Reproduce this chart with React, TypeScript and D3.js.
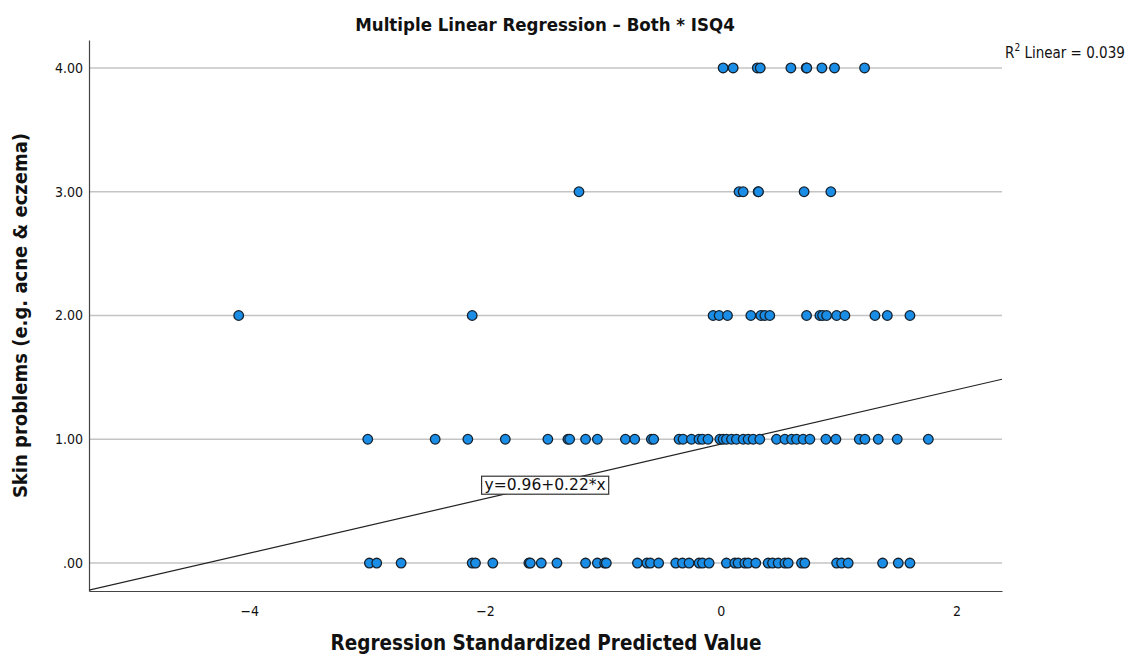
import React, { useEffect, useRef } from 'react';
import * as d3 from 'd3';

// predicted value (x) for each observed level of skin problems
const row4: number[] = [0.02, 0.105, 0.31, 0.335, 0.595, 0.725, 0.73, 0.858, 0.965, 1.22];
const row3: number[] = [-1.203, 0.155, 0.19, 0.317, 0.32, 0.707, 0.934];
const row2: number[] = [-4.09, -2.109, -0.065, -0.014, 0.057, 0.255, 0.34, 0.374, 0.416, 0.728, 0.841, 0.864,
  0.898, 0.983, 1.053, 1.308, 1.413, 1.605];
const row1: number[] = [-2.995, -2.423, -2.146, -1.828, -1.467, -1.297, -1.282, -1.147, -1.047, -0.809, -0.73,
  -0.589, -0.569, -0.354, -0.32, -0.249, -0.185, -0.156, -0.108, -0.008, 0.02, 0.048, 0.091, 0.133, 0.19,
  0.232, 0.275, 0.331, 0.473, 0.544, 0.601, 0.643, 0.699, 0.756, 0.892, 0.977, 1.175, 1.223, 1.336, 1.497, 1.761];
const row0: number[] = [-2.981, -2.919, -2.712, -2.109, -2.081, -1.934, -1.628, -1.616, -1.523, -1.39, -1.147,
  -1.047, -0.985, -0.971, -0.707, -0.626, -0.597, -0.527, -0.382, -0.325, -0.269, -0.184, -0.155, -0.099,
  0.048, 0.119, 0.147, 0.204, 0.232, 0.297, 0.402, 0.439, 0.487, 0.544, 0.572, 0.685, 0.713, 0.983, 1.025,
  1.081, 1.373, 1.506, 1.605];

const levels = [0, 1, 2, 3, 4];
const xTicks = [-4, -2, 0, 2];
const intercept = 0.96;
const slope = 0.22;
const rSquared = '0.039';

const App = () => {
  const ref = useRef<SVGSVGElement>(null);

  useEffect(() => {
    const W = 1137;
    const H = 657;
    const margin = { top: 40, right: 135, bottom: 66, left: 89 };
    const svg = d3.select(ref.current);
    svg.selectAll('*').remove();

    const x = d3.scaleLinear().domain([-5.36, 2.386]).range([margin.left, W - margin.right]);
    const y = d3.scaleLinear().domain([-0.226, 4.226]).range([H - margin.bottom, margin.top]);
    const font = "'Liberation Sans Narrow', 'DejaVu Sans Condensed', 'Liberation Sans', sans-serif";

    const points = [row0, row1, row2, row3, row4].flatMap((xs, i) => xs.map(v => ({ x: v, y: levels[i] })));

    // grid lines
    svg.append('g')
      .selectAll('line')
      .data(levels)
      .join('line')
      .attr('x1', margin.left)
      .attr('x2', W - margin.right)
      .attr('y1', d => y(d))
      .attr('y2', d => y(d))
      .attr('stroke', '#c4c4c4')
      .attr('stroke-width', 1.5);

    // axes
    const yAxis = svg.append('g')
      .attr('transform', `translate(${margin.left},0)`)
      .call(d3.axisLeft(y).tickValues(levels).tickSize(0).tickPadding(6)
        .tickFormat(d => (d === 0 ? '.00' : d3.format('.2f')(d as number))));
    const xAxis = svg.append('g')
      .attr('transform', `translate(0,${H - margin.bottom})`)
      .call(d3.axisBottom(x).tickValues(xTicks).tickSize(0).tickPadding(15)
        .tickFormat(d => (d as number) < 0 ? `\u2212${Math.abs(d as number)}` : `${d}`));
    [yAxis, xAxis].forEach(a => {
      a.select('.domain').attr('stroke', '#444').attr('stroke-width', 1.2);
      a.selectAll('text').attr('font-family', font).attr('font-size', 14).attr('fill', '#111');
    });

    // regression line
    const clipId = 'plot-clip';
    svg.append('clipPath').attr('id', clipId)
      .append('rect')
      .attr('x', margin.left).attr('y', margin.top)
      .attr('width', W - margin.right - margin.left)
      .attr('height', H - margin.bottom - margin.top);
    const [x0, x1] = x.domain();
    svg.append('path')
      .datum([x0, x1])
      .attr('clip-path', `url(#${clipId})`)
      .attr('d', d3.line<number>().x(d => x(d)).y(d => y(intercept + slope * d)))
      .attr('stroke', '#222')
      .attr('stroke-width', 1.2)
      .attr('fill', 'none');

    // points
    svg.append('g')
      .selectAll('circle')
      .data(points)
      .join('circle')
      .attr('cx', d => x(d.x))
      .attr('cy', d => y(d.y))
      .attr('r', 4.8)
      .attr('fill', '#1a8ee6')
      .attr('stroke', '#16222e')
      .attr('stroke-width', 1.3);

    // equation label
    const eqX = -1.49;
    const eqY = intercept + slope * eqX;
    const eq = svg.append('g').attr('transform', `translate(${x(eqX)},${y(eqY)})`);
    const eqText = eq.append('text')
      .text(`y=${intercept.toFixed(2)}+${slope.toFixed(2)}*x`)
      .attr('text-anchor', 'middle')
      .attr('dy', '0.35em')
      .attr('font-family', "'DejaVu Sans', sans-serif")
      .attr('font-size', 15.5)
      .attr('fill', '#111');
    const bb = (eqText.node() as SVGTextElement).getBBox();
    eq.insert('rect', 'text')
      .attr('x', bb.x - 3).attr('y', bb.y)
      .attr('width', bb.width + 6).attr('height', bb.height)
      .attr('fill', '#fff')
      .attr('stroke', '#333')
      .attr('stroke-width', 1.2);

    // R squared label
    const r2 = svg.append('text')
      .attr('x', 1005).attr('y', 58)
      .attr('font-family', font).attr('font-size', 15).attr('fill', '#111');
    r2.append('tspan').text('R');
    r2.append('tspan').text('2').attr('font-size', 10).attr('dy', -7);
    r2.append('tspan').text(` Linear = ${rSquared}`).attr('dy', 7);

    // titles
    svg.append('text')
      .text('Multiple Linear Regression \u2013 Both * ISQ4')
      .attr('x', 545).attr('y', 31)
      .attr('text-anchor', 'middle')
      .attr('font-family', font).attr('font-weight', 'bold').attr('font-size', 18.5).attr('fill', '#111');
    svg.append('text')
      .text('Regression Standardized Predicted Value')
      .attr('x', 546).attr('y', 650)
      .attr('text-anchor', 'middle')
      .attr('font-family', font).attr('font-weight', 'bold').attr('font-size', 20.5).attr('fill', '#111');
    svg.append('text')
      .text('Skin problems (e.g. acne & eczema)')
      .attr('transform', `translate(27,${(margin.top + H - margin.bottom) / 2}) rotate(-90)`)
      .attr('text-anchor', 'middle')
      .attr('font-family', font).attr('font-weight', 'bold').attr('font-size', 20).attr('fill', '#111');
  }, []);

  return (
    <div style={{ position: 'absolute', left: 0, top: 0, background: '#fff' }}>
      <svg ref={ref} width={1137} height={657} style={{ display: 'block' }}></svg>
    </div>
  );
};

export default App;
